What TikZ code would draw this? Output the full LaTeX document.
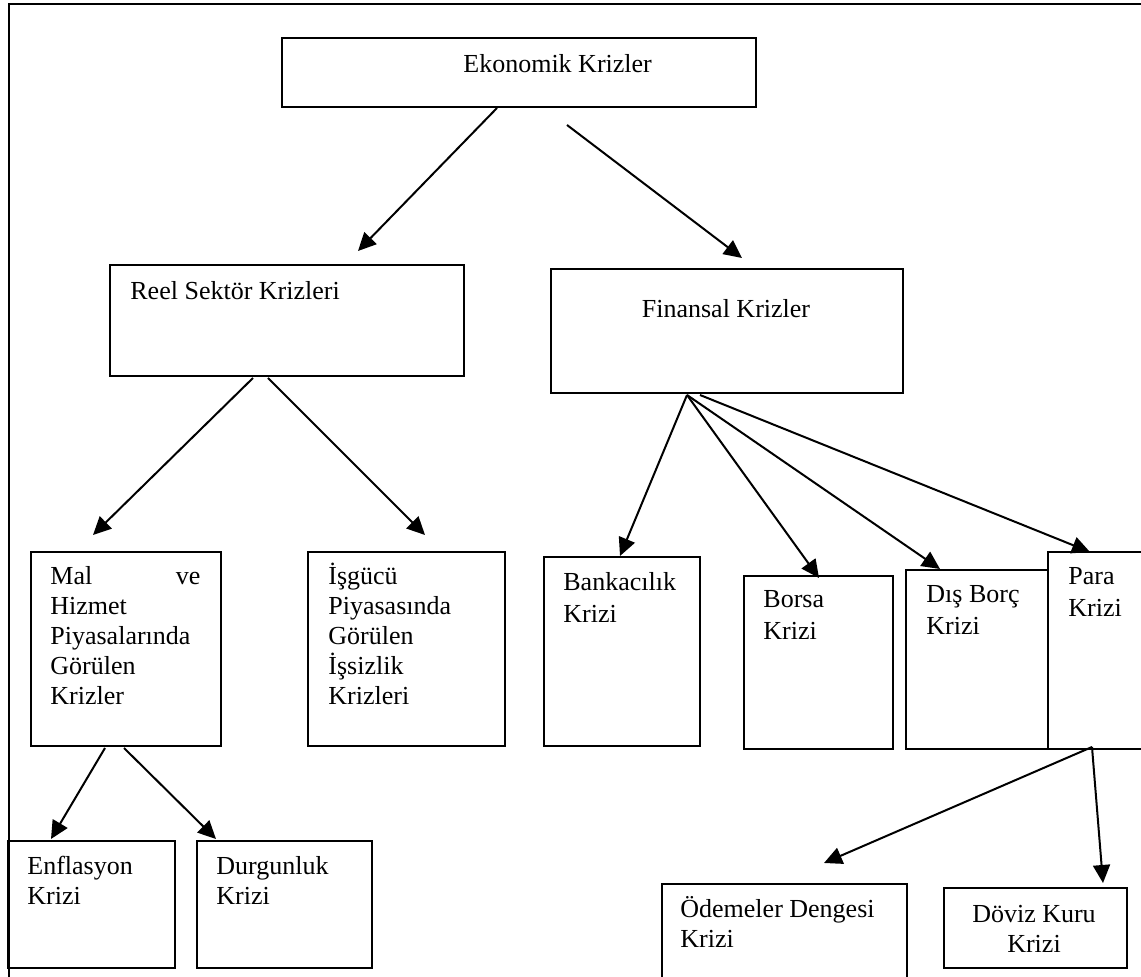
\documentclass[tikz,border=0pt]{standalone}
\usepackage{fontspec}
\setmainfont{Liberation Serif}
\usetikzlibrary{arrows.meta,calc}
\begin{document}
\begin{tikzpicture}[x=0.5pt,y=-0.5pt,
    kutu/.style={draw,line width=1pt,anchor=north west,inner sep=0pt},
    yazi/.style={anchor=base west,inner sep=0pt,align=flush left,text width=120pt,font=\fontsize{13}{15}\selectfont},
    genis/.style={font=\fontsize{13}{16}\selectfont},
    ok/.style={-{Triangle[length=9pt,width=8.5pt]},line width=1pt}]
  \useasboundingbox (0,0) rectangle (1141,977);
  \clip (0,0) rectangle (1141,977);
  \draw[line width=1pt] (1141,4) -- (9,4) -- (9,977);
  % kutular
  \node[kutu,minimum width=237pt,minimum height=34.5pt] (ekon) at (281,37) {};
  \node[kutu,minimum width=177pt,minimum height=55.5pt] (reel) at (109,264) {};
  \node[kutu,minimum width=176pt,minimum height=62pt] (finans) at (550,268) {};
  \node[kutu,minimum width=95pt,minimum height=97pt] (mal) at (30,551) {};
  \node[kutu,minimum width=98.5pt,minimum height=97pt] (isgucu) at (307,551) {};
  \node[kutu,minimum width=78pt,minimum height=94.5pt] (banka) at (543,556) {};
  \node[kutu,minimum width=74.5pt,minimum height=86.5pt] (borsa) at (743,575) {};
  \node[kutu,minimum width=71pt,minimum height=89.5pt] (disborc) at (905,569) {};
  \node[kutu,minimum width=76.5pt,minimum height=98.5pt] (para) at (1047,551) {};
  \node[kutu,minimum width=83.5pt,minimum height=63.5pt] (enflasyon) at (7,840) {};
  \node[kutu,minimum width=87.5pt,minimum height=63.5pt] (durgunluk) at (196,840) {};
  \node[kutu,minimum width=122.5pt,minimum height=58.5pt] (odemeler) at (661,883) {};
  \node[kutu,minimum width=91.5pt,minimum height=40pt] (doviz) at (943,887) {};
  % yazilar
  \node[yazi] (ekon-t) at ($(ekon.north west)+(182,36)$) {Ekonomik Krizler};
  \node[yazi] (reel-t) at ($(reel.north west)+(21,36)$) {Reel Sektör Krizleri};
  \node[yazi,anchor=base,align=flush center] (finans-t) at ($(finans.north west)+(176,50)$) {Finansal Krizler};
  \node[yazi,text width=75pt] (mal-t) at ($(mal.north west)+(20,34)$)
    {Mal\hskip 0pt plus 1filll ve\\Hizmet\\Piyasalarında\\Görülen\\Krizler};
  \node[yazi] (isgucu-t) at ($(isgucu.north west)+(21,34)$)
    {İşgücü\\Piyasasında\\Görülen\\İşsizlik\\Krizleri};
  \node[yazi,genis] (banka-t) at ($(banka.north west)+(20,35)$) {Bankacılık\\Krizi};
  \node[yazi,genis] (borsa-t) at ($(borsa.north west)+(20,33)$) {Borsa\\Krizi};
  \node[yazi,genis] (disborc-t) at ($(disborc.north west)+(21,34)$) {Dış Borç\\Krizi};
  \node[yazi,genis] (para-t) at ($(para.north west)+(21,34)$) {Para\\Krizi};
  \node[yazi] (enflasyon-t) at ($(enflasyon.north west)+(20,35)$) {Enflasyon\\Krizi};
  \node[yazi] (durgunluk-t) at ($(durgunluk.north west)+(20,35)$) {Durgunluk\\Krizi};
  \node[yazi] (odemeler-t) at ($(odemeler.north west)+(19,35)$) {Ödemeler Dengesi\\Krizi};
  \node[yazi,anchor=base,align=flush center] (doviz-t) at ($(doviz.north west)+(91,35)$) {Döviz Kuru\\Krizi};
  % oklar
  \draw[ok] ($(ekon.south west)+(216,0)$) -- ($(reel.north west)+(249,-13)$);
  \draw[ok] ($(ekon.south west)+(286,17)$) -- ($(finans.north west)+(192,-10)$);
  \draw[ok] ($(reel.south west)+(144,1)$) -- ($(mal.north west)+(63,-16)$);
  \draw[ok] ($(reel.south west)+(159,1)$) -- ($(isgucu.north west)+(118,-16)$);
  \draw[ok] ($(finans.south west)+(137,1)$) -- ($(banka.north west)+(77,0)$);
  \draw[ok] ($(finans.south west)+(137,1)$) -- ($(borsa.north west)+(76,3)$);
  \draw[ok] ($(finans.south west)+(137,1)$) -- ($(disborc.north west)+(35,0)$);
  \draw[ok] ($(finans.south west)+(150,1)$) -- ($(para.north west)+(43,1)$);
  \draw[ok] ($(mal.south west)+(75,1)$) -- ($(enflasyon.north west)+(44,-1)$);
  \draw[ok] ($(mal.south west)+(94,1)$) -- ($(durgunluk.north west)+(20,-1)$);
  \draw[ok] ($(para.south west)+(45,-3)$) -- ($(odemeler.north west)+(163,-20)$);
  \draw[ok] ($(para.south west)+(45,-3)$) -- ($(doviz.north west)+(160,-4)$);
\end{tikzpicture}
\end{document}
